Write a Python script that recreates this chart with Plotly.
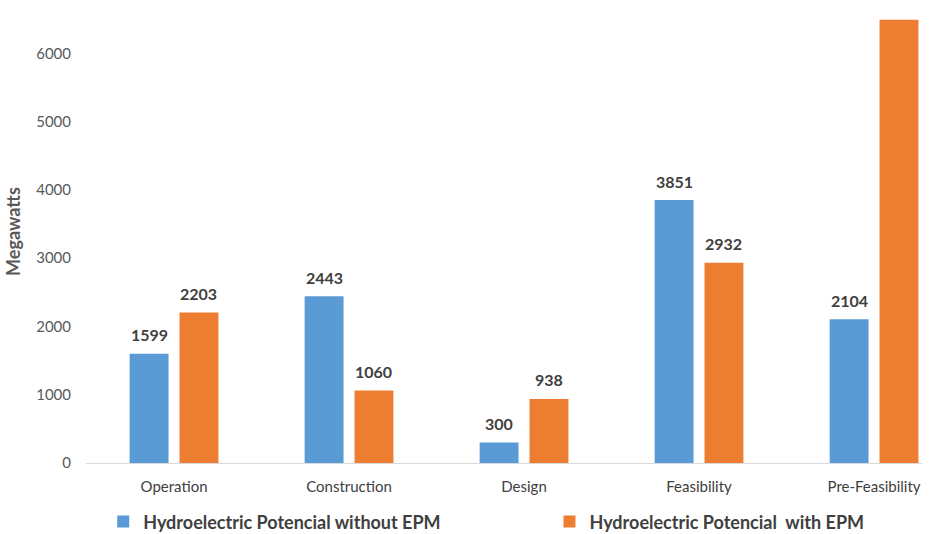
import plotly.graph_objects as go

categories = ["Operation", "Construction", "Design", "Feasibility", "Pre-Feasibility"]
without_epm = [1599, 2443, 300, 3851, 2104]
with_epm = [2203, 1060, 938, 2932, 6490]
series_names = ["Hydroelectric Potencial without EPM", "Hydroelectric Potencial  with EPM"]
series_colors = ["#5B9BD5", "#ED7D31"]

FONT = "Lato, 'Open Sans', sans-serif"
BARGAP = 0.43
GROUPGAP = 0.22

fig = go.Figure()
for i, (vals, name, color) in enumerate(zip([without_epm, with_epm], series_names, series_colors)):
    fig.add_trace(go.Bar(
        x=categories, y=vals, name=name,
        marker=dict(color=color, line=dict(width=0)),
        legend="legend" if i == 0 else "legend2",
    ))

# value labels above each bar (the tallest bar's label falls above the plot top)
slot = (1 - BARGAP) / 2
for s, vals in enumerate([without_epm, with_epm]):
    offset = (s - 0.5) * slot
    for c, v in enumerate(vals):
        if v > 6300:
            continue
        fig.add_annotation(
            x=c + offset, y=v, xref="x", yref="y", text=str(v),
            showarrow=False, yanchor="middle", yshift=19,
            font=dict(family=FONT, size=16, color="#404040", weight="bold"),
        )

legend_font = dict(family=FONT, size=18, color="#404040", weight="bold")

fig.update_layout(
    width=932, height=534,
    margin=dict(l=86, r=10, t=0, b=71, autoexpand=False),
    paper_bgcolor="white", plot_bgcolor="white",
    barmode="group", bargap=BARGAP, bargroupgap=GROUPGAP,
    font=dict(family=FONT, color="#595959"),
    showlegend=True,
    legend=dict(
        orientation="h", x=0.0206, xanchor="left", y=-0.127, yanchor="middle",
        font=legend_font, bgcolor="rgba(0,0,0,0)", itemwidth=30,
    ),
    legend2=dict(
        orientation="h", x=0.5544, xanchor="left", y=-0.127, yanchor="middle",
        font=legend_font, bgcolor="rgba(0,0,0,0)", itemwidth=30,
    ),
    xaxis=dict(
        range=[-0.503, 4.274],
        showgrid=False, showline=True, linecolor="#D9D9D9", linewidth=1,
        ticks="", ticklabelstandoff=10,
        tickfont=dict(family=FONT, size=15, color="#404040"),
    ),
    yaxis=dict(
        range=[0, 6780], tickvals=[0, 1000, 2000, 3000, 4000, 5000, 6000],
        showgrid=False, zeroline=False, showline=False, ticks="",
        ticklabelstandoff=14,
        tickfont=dict(family=FONT, size=15, color="#595959"),
        title=dict(text="Megawatts", standoff=10,
                   font=dict(family=FONT, size=18, color="#595959", weight="bold")),
    ),
)

fig.write_html("out.html")
